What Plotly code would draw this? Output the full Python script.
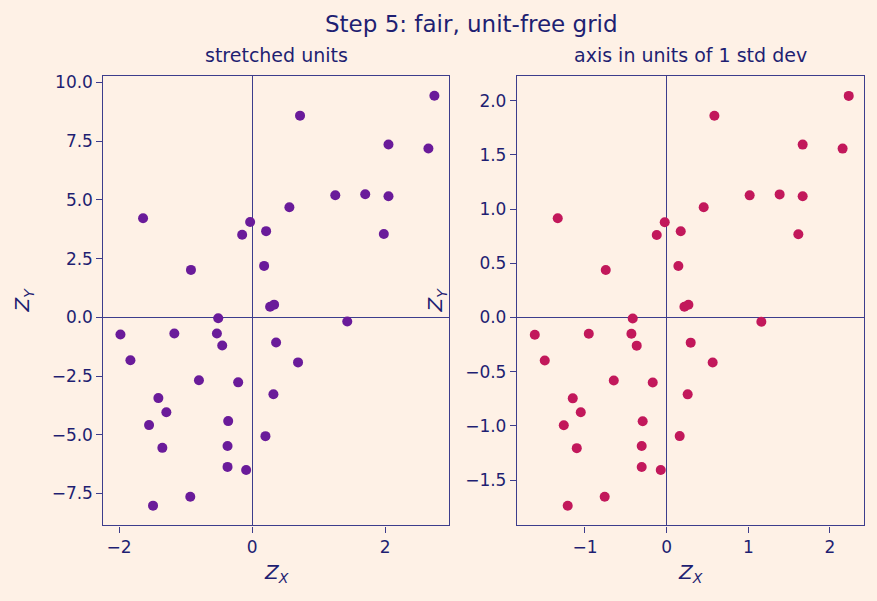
import plotly.graph_objects as go

# Left panel: stretched units
left_x = [2.74, 0.72, 2.05, 2.65, 1.25, 1.70, 2.05, 0.56, -1.64, -0.03,
          0.21, -0.15, 1.98, -0.92, 0.18, 0.27, 0.33, -0.51, 1.43, -1.98,
          -1.17, -0.53, -0.45, -1.83, 0.36, 0.69, -0.80, -0.21, 0.32, -1.41,
          -1.29, -0.36, -1.55, 0.20, -1.35, -0.37, -0.37, -0.09, -0.93, -1.49]
left_y = [9.44, 8.59, 7.36, 7.19, 5.20, 5.24, 5.16, 4.69, 4.22, 4.06,
          3.67, 3.52, 3.55, 2.02, 2.19, 0.45, 0.54, -0.04, -0.18, -0.73,
          -0.69, -0.69, -1.20, -1.83, -1.07, -1.92, -2.68, -2.77, -3.28, -3.44,
          -4.04, -4.42, -4.59, -5.06, -5.56, -5.48, -6.37, -6.50, -7.64, -8.02]

# Right panel: units of 1 std dev
right_x = [2.23, 0.585, 1.666, 2.155, 1.017, 1.384, 1.666, 0.454, -1.333, -0.023,
           0.173, -0.121, 1.613, -0.745, 0.144, 0.218, 0.267, -0.415, 1.16, -1.614,
           -0.953, -0.431, -0.366, -1.492, 0.295, 0.564, -0.647, -0.170, 0.258, -1.149,
           -1.051, -0.293, -1.259, 0.160, -1.100, -0.305, -0.305, -0.072, -0.758, -1.211]
right_y = [2.043, 1.86, 1.594, 1.557, 1.126, 1.135, 1.117, 1.016, 0.915, 0.878,
           0.795, 0.761, 0.768, 0.438, 0.474, 0.098, 0.117, -0.009, -0.039, -0.159,
           -0.150, -0.150, -0.260, -0.397, -0.232, -0.416, -0.581, -0.599, -0.709, -0.746,
           -0.874, -0.957, -0.994, -1.094, -1.205, -1.186, -1.379, -1.406, -1.654, -1.737]

title_text = "Step 5: fair, unit-free grid"
sub_left = "stretched units"
sub_right = "axis in units of 1 std dev"

BG = "#fef1e6"
TXT = "#1f1f72"
LINE = "#3d3d8c"
FONT = "DejaVu Sans"

fig = go.Figure()
fig.add_trace(go.Scatter(x=left_x, y=left_y, mode="markers", xaxis="x", yaxis="y",
                         marker=dict(color="#6a1b9a", size=10), showlegend=False))
fig.add_trace(go.Scatter(x=right_x, y=right_y, mode="markers", xaxis="x2", yaxis="y2",
                         marker=dict(color="#c2185b", size=10), showlegend=False))

ax_common = dict(showline=True, linecolor=LINE, linewidth=1.3, mirror=True,
                 showgrid=False, zeroline=True, zerolinecolor=LINE, zerolinewidth=1.4,
                 ticks="outside", ticklen=6, tickcolor=LINE, tickwidth=1.3,
                 tickfont=dict(family=FONT, size=17, color=TXT))

ydom = [0.1265, 0.878]
fig.update_layout(
    width=877, height=601,
    margin=dict(l=0, r=0, t=0, b=0),
    paper_bgcolor=BG, plot_bgcolor=BG,
    font=dict(family=FONT, color=TXT),
    xaxis=dict(domain=[0.118, 0.512], range=[-2.235, 2.96], dtick=2, anchor="y", **ax_common),
    yaxis=dict(domain=ydom, range=[-8.86, 10.28], dtick=2.5, tickformat=".1f", anchor="x", **ax_common),
    xaxis2=dict(domain=[0.5895, 0.985], range=[-1.832, 2.415], dtick=1, anchor="y2", **ax_common),
    yaxis2=dict(domain=ydom, range=[-1.917, 2.227], dtick=0.5, tickformat=".1f", anchor="x2", **ax_common),
)

ann = []
ann.append(dict(text=title_text, x=471.3 / 877, y=1 - 21 / 601, xref="paper", yref="paper",
                showarrow=False, font=dict(family=FONT, size=23, color=TXT),
                xanchor="center", yanchor="middle"))
ann.append(dict(text=sub_left, x=(0.118 + 0.512) / 2, y=1 - 52 / 601, xref="paper", yref="paper",
                showarrow=False, font=dict(family=FONT, size=19, color=TXT),
                xanchor="center", yanchor="middle"))
ann.append(dict(text=sub_right, x=(0.5895 + 0.985) / 2, y=1 - 52 / 601, xref="paper", yref="paper",
                showarrow=False, font=dict(family=FONT, size=19, color=TXT),
                xanchor="center", yanchor="middle"))
for xc in [(0.118 + 0.512) / 2, (0.5895 + 0.985) / 2]:
    ann.append(dict(text="<i>Z<sub>X</sub></i>", x=xc, y=1 - 573 / 601, xref="paper", yref="paper",
                    showarrow=False, font=dict(family=FONT, size=20, color=TXT),
                    xanchor="center", yanchor="middle"))
for xp in [23 / 877, 436 / 877]:
    ann.append(dict(text="<i>Z<sub>Y</sub></i>", x=xp, y=1 - 299 / 601, xref="paper", yref="paper",
                    showarrow=False, font=dict(family=FONT, size=20, color=TXT), textangle=-90,
                    xanchor="center", yanchor="middle"))
fig.update_layout(annotations=ann)

fig.write_html("out.html")
